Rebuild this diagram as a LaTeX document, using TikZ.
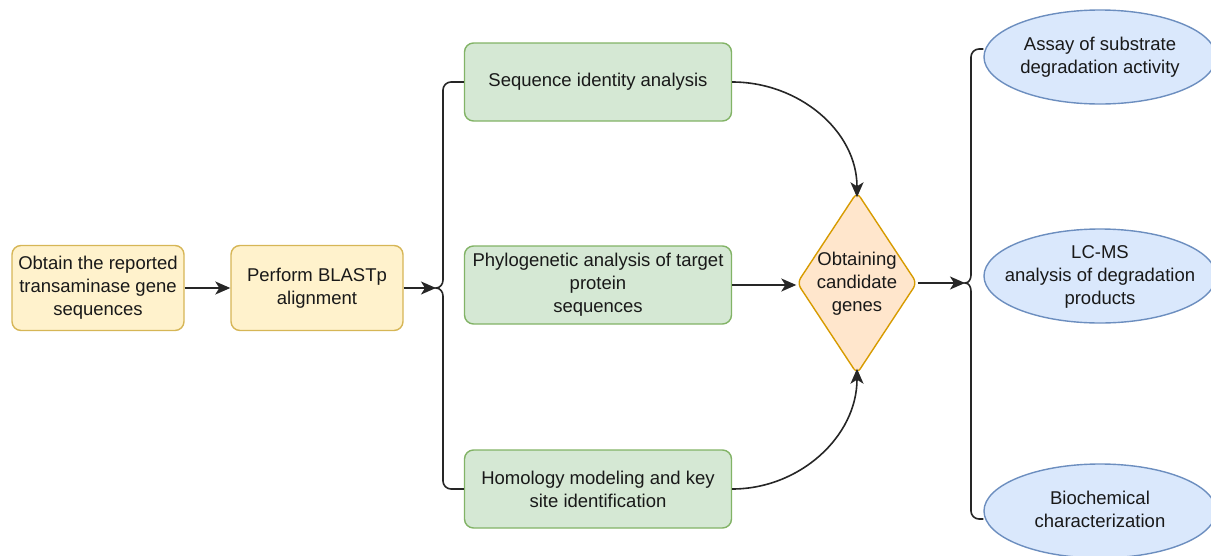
\documentclass[tikz,border=0pt]{standalone}
\usepackage{fontspec}
\setmainfont{Liberation Sans}
\usetikzlibrary{shapes.geometric,arrows.meta}
\definecolor{yfill}{HTML}{FFF2CC}
\definecolor{ydraw}{HTML}{D6B656}
\definecolor{gfill}{HTML}{D5E8D4}
\definecolor{gdraw}{HTML}{82B366}
\definecolor{ofill}{HTML}{FFE6CC}
\definecolor{odraw}{HTML}{D79B00}
\definecolor{bfill}{HTML}{DAE8FC}
\definecolor{bdraw}{HTML}{6C8EBF}
\newcommand{\zerotext}[1]{\raisebox{-5pt}[0pt][0pt]{\makebox[0pt]{\begin{tabular}{@{}c@{}}#1\end{tabular}}}}
\tikzset{
  base/.style={font=\fontsize{18.5}{23}\selectfont, align=center, line width=1.4pt, inner sep=0pt, text=black!90},
  ybox/.style={base, rectangle, rounded corners=9pt, fill=yfill, draw=ydraw, minimum width=172pt, minimum height=85pt},
  gbox/.style={base, rectangle, rounded corners=9pt, fill=gfill, draw=gdraw, minimum width=267pt, minimum height=78pt},
  obox/.style={base, diamond, rounded corners=6pt, fill=ofill, draw=odraw, minimum width=120pt, minimum height=182pt, aspect=0.66},
  bell/.style={base, ellipse, fill=bfill, draw=bdraw, minimum width=232pt, minimum height=94pt},
  conn/.style={line width=1.6pt, draw=black!85},
  arr/.style={conn, -{Stealth[length=15pt,width=13pt,inset=4pt]}}
}
\begin{document}
\begin{tikzpicture}[x=1pt,y=-1pt]
\useasboundingbox (0,0) rectangle (1211,555);
\node[ybox] (A) at (98,288) {Obtain the reported\\transaminase gene\\sequences};
\node[ybox] (B) at (317,288) {Perform BLASTp\\alignment};
\node[gbox] (G1) at (598,82) {Sequence identity analysis};
\node[gbox] (G2) at (598,285) {Phylogenetic analysis of target\\protein\\sequences};
\node[gbox] (G3) at (598,489) {Homology modeling and key\\site identification};
\node[obox] (D) at (857,283) {\zerotext{Obtaining\\candidate\\genes}};
\node[bell] (E1) at (1100,57) {\zerotext{Assay of substrate\\degradation activity}};
\node[bell] (E2) at (1100,276) {\zerotext{LC-MS\\analysis of degradation\\products}};
\node[bell] (E3) at (1100,511) {\zerotext{Biochemical\\characterization}};
\coordinate (lb) at (436,288);
\coordinate (rb) at (965,283);
% left brace
\draw[conn] (G1.west) -- (451,82) to[out=180,in=90] (443,90) -- (443,280) to[out=-90,in=0] (lb)
  to[out=0,in=90] (443,296) -- (443,481) to[out=-90,in=180] (451,489) -- (G3.west);
% right brace
\draw[conn] (E1.west |- 0,49) -- (979,49) to[out=180,in=90] (971,57) -- (971,275) to[out=-90,in=0] (rb)
  to[out=0,in=90] (971,291) -- (971,511) to[out=-90,in=180] (979,519) -- (E3.west |- 0,519);
\draw[arr] (A) -- (B);
\draw[arr] (B) -- (lb);
\draw[arr] (G1.east) to[out=0,in=90] ([yshift=-6pt]D.north);
\draw[arr] (G2.east) -- (D.west |- G2.east);
\draw[arr] (G3.east) to[out=0,in=-90] ([yshift=6pt]D.south);
\draw[arr] (D.east) -- (rb);
\end{tikzpicture}
\end{document}
